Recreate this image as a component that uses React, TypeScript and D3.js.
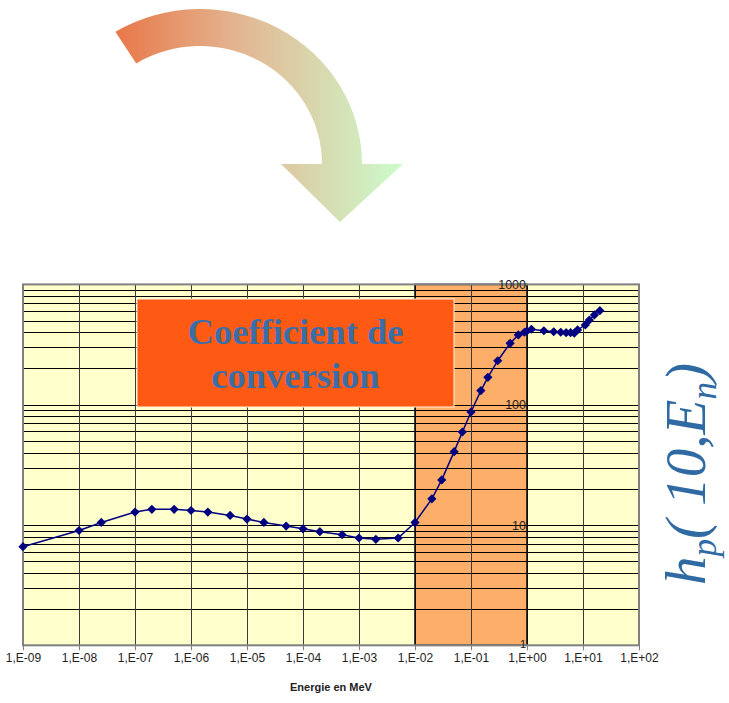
import React from "react";
import * as d3 from "d3";

// ---- data ----
const energiesMeV = [
  1e-9, 1e-8, 2.5e-8, 1e-7, 2e-7, 5e-7, 1e-6, 2e-6, 5e-6, 1e-5, 2e-5, 5e-5,
  1e-4, 2e-4, 5e-4, 1e-3, 2e-3, 5e-3, 1e-2, 2e-2, 3e-2, 5e-2, 7e-2, 0.1,
  0.15, 0.2, 0.3, 0.5, 0.7, 0.9, 1.0, 1.2, 2, 3, 4, 5, 6, 7, 8, 11, 13, 16, 20,
];
const hpValues = [
  6.6, 9.0, 10.5, 12.8, 13.5, 13.5, 13.2, 12.8, 12.0, 11.2, 10.5, 9.8,
  9.3, 8.8, 8.3, 7.8, 7.6, 7.8, 10.5, 16.5, 23.7, 40.7, 59.3, 87,
  131, 169, 232, 324, 380, 400, 410, 424, 412, 404, 400, 397, 397, 394, 418, 460, 506, 557, 605,
];
const decadeExponents = [-9, -8, -7, -6, -5, -4, -3, -2, -1, 0, 1, 2];
const yLabelValues = [1, 10, 100, 1000];
const bandRange = [1e-2, 1e0];
const xTitle = "Energie en MeV";
const boxLines = ["Coefficient de", "conversion"];

const W = 729;
const H = 703;
const plot = { left: 23, right: 639, top: 284.4, bottom: 645.3 };

function fmtExp(p: number) {
  const s = String(Math.abs(p)).padStart(2, "0");
  return "1,E" + (p < 0 ? "-" : "+") + s;
}

export default function App() {
  const x = d3.scaleLog().domain([1e-9, 1e2]).range([plot.left, plot.right]);
  const y = d3.scaleLog().domain([1, 1000]).range([plot.bottom, plot.top]);
  const yGrid = y.ticks();
  const pts = energiesMeV.map((e, i) => [x(e), y(hpValues[i])] as [number, number]);
  const line = d3.line()(pts) || "";

  // arrow geometry (decorative)
  const cx = 200, cy = 164;
  const oRx = 162, oRy = 155, iRx = 122, iRy = 118;
  const t0 = (121.5 * Math.PI) / 180;
  const oS = [cx + oRx * Math.cos(t0), cy - oRy * Math.sin(t0)];
  const iS = [cx + iRx * Math.cos(t0), cy - iRy * Math.sin(t0)];
  const arrowPath =
    `M${oS[0]},${oS[1]} A${oRx},${oRy} 0 0 1 ${cx + oRx},${cy} ` +
    `L403,${cy} L340,222 L281,${cy} L${cx + iRx},${cy} ` +
    `A${iRx},${iRy} 0 0 0 ${iS[0]},${iS[1]} Z`;

  const diamond = (px: number, py: number) => {
    const r = 4.6;
    return `M${px},${py - r} L${px + r},${py} L${px},${py + r} L${px - r},${py} Z`;
  };

  return (
    <svg
      width={W}
      height={H}
      style={{ position: "absolute", left: 0, top: 0, background: "#fff" }}
    >
      <defs>
        <linearGradient id="arrowGrad" gradientUnits="userSpaceOnUse" x1={116} y1={0} x2={403} y2={0}>
          <stop offset="0" stopColor="#E9784A" />
          <stop offset="0.45" stopColor="#E2B995" />
          <stop offset="1" stopColor="#CCFCCC" />
        </linearGradient>
      </defs>

      {/* arrow */}
      <path d={arrowPath} fill="url(#arrowGrad)" />

      {/* plot background */}
      <rect x={plot.left} y={plot.top} width={plot.right - plot.left} height={plot.bottom - plot.top} fill="#FFFFCC" />
      <rect
        x={x(bandRange[0])}
        y={plot.top}
        width={x(bandRange[1]) - x(bandRange[0])}
        height={plot.bottom - plot.top}
        fill="#FDAE68"
      />

      {/* horizontal grid */}
      {yGrid.map((v, i) => (
        <line key={"h" + i} x1={plot.left} x2={plot.right} y1={Math.round(y(v)) + 0.5} y2={Math.round(y(v)) + 0.5} stroke="#000" strokeWidth={1} />
      ))}
      {/* vertical grid */}
      {decadeExponents.map((p) => (
        <line key={"v" + p} x1={Math.round(x(Math.pow(10, p))) + 0.5} x2={Math.round(x(Math.pow(10, p))) + 0.5} y1={plot.top} y2={plot.bottom} stroke="#3a3a3a" strokeWidth={1} />
      ))}

      {/* band border */}
      <rect
        x={x(bandRange[0])}
        y={plot.top}
        width={x(bandRange[1]) - x(bandRange[0])}
        height={plot.bottom - plot.top}
        fill="none"
        stroke="#000"
        strokeWidth={1.5}
      />

      {/* plot border */}
      <rect x={plot.left} y={plot.top} width={plot.right - plot.left} height={plot.bottom - plot.top} fill="none" stroke="#808080" strokeWidth={2} />

      {/* y labels at axis crossing 1E+00 */}
      {yLabelValues.map((v) => (
        <text key={"yl" + v} x={x(1) - 1} y={y(v) + (v === 1 ? 3 : 4.5)} textAnchor="end" fontFamily="Liberation Sans, Arial, sans-serif" fontSize={v === 1 ? 11 : 12.5} fill="#222">
          {v}
        </text>
      ))}

      {/* series */}
      <path d={line} fill="none" stroke="#000080" strokeWidth={1.5} />
      {pts.map((p, i) => (
        <path key={"m" + i} d={diamond(p[0], p[1])} fill="#000080" />
      ))}

      {/* text box */}
      <rect x={137} y={299} width={317} height={108} fill="#FF5A14" stroke="#FFF4E0" strokeWidth={1} />
      {boxLines.map((s, i) => (
        <text key={"bt" + i} x={295.5} y={344 + i * 44} textAnchor="middle" fontFamily="Liberation Serif, Times New Roman, serif" fontWeight="bold" fontSize={36.5} fill="#3A6EA8">
          {s}
        </text>
      ))}

      {/* x axis ticks and labels */}
      {decadeExponents.map((p) => {
        const px = Math.round(x(Math.pow(10, p))) + 0.5;
        return (
          <g key={"xt" + p}>
            <line x1={px} x2={px} y1={plot.bottom} y2={plot.bottom + 5} stroke="#808080" strokeWidth={1} />
            <text x={px} y={662} textAnchor="middle" fontFamily="Liberation Sans, Arial, sans-serif" fontSize={12} fill="#222">
              {fmtExp(p)}
            </text>
          </g>
        );
      })}
      <text x={(plot.left + plot.right) / 2} y={691} textAnchor="middle" fontFamily="Liberation Sans, Arial, sans-serif" fontWeight="bold" fontSize={11} fill="#222">
        {xTitle}
      </text>

      {/* right rotated label */}
      <text
        transform="translate(705,474) rotate(-90)"
        textAnchor="middle"
        fontFamily="Liberation Serif, Times New Roman, serif"
        fontStyle="italic"
        fontSize={57}
        fill="#2F6AA3"
      >
        <tspan>h</tspan>
        <tspan dy={11} fontSize={35}>p</tspan>
        <tspan dy={-11}>( 10,E</tspan>
        <tspan dy={11} fontSize={35}>n</tspan>
        <tspan dy={-11}>)</tspan>
      </text>
    </svg>
  );
}
